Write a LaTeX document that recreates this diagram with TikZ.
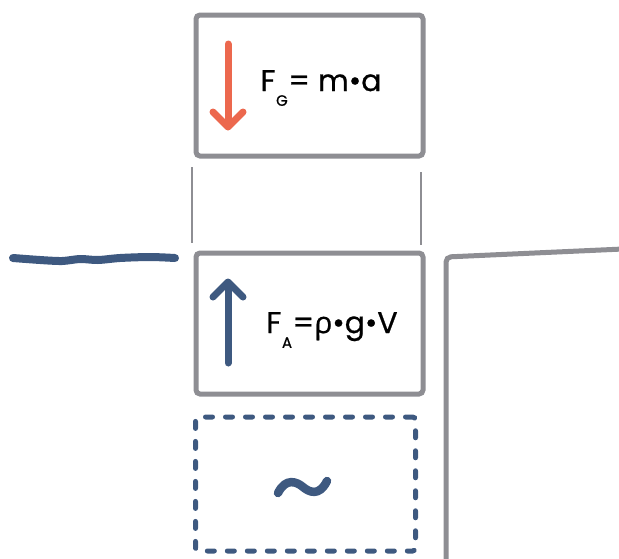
\documentclass[tikz,border=0pt]{standalone}
\usepackage{fontspec}
\setmainfont{Poppins}
\newfontfamily\formulafont{Poppins}[BoldFont=Poppins, BoldFeatures={FakeBold=0.7}]
\newfontfamily\greekfont{Open Sans}[BoldFont=Open Sans, BoldFeatures={FakeBold=0.7}]
\usetikzlibrary{positioning}
\definecolor{framegrey}{RGB}{142,142,147}
\definecolor{gravred}{RGB}{236,104,78}
\definecolor{waterblue}{RGB}{62,89,128}
\tikzset{
frame/.style={draw=framegrey, line width=5pt, rounded corners=4pt, minimum width=227pt, minimum height=141pt, inner sep=0pt, outer sep=0pt},
volume/.style={draw=waterblue, line width=5pt, line cap=round, dash pattern=on 7pt off 13pt, rounded corners=3pt, minimum width=220pt, minimum height=134pt, inner sep=0pt, outer sep=0pt},
force/.style={line width=7pt, line cap=round, line join=round},
guide/.style={draw=framegrey, line width=1.6pt},
wall/.style={draw=framegrey, line width=5pt, rounded corners=5pt},
formula/.style={font=\formulafont\bfseries\fontsize{30}{34}\selectfont, inner sep=0pt}
}
\newcommand{\lowidx}[1]{\kern0.5pt\raisebox{-0.9ex}{\fontsize{15}{15}\selectfont #1}\kern0.5pt}

\begin{document}
\begin{tikzpicture}[x=1pt, y=-1pt]
    \useasboundingbox (0,0) rectangle (619,558);
    % the two blocks and the displaced volume
    \node[frame] (top) at (309.5,85.5) {};
    \node[frame] (mid) [below=97pt of top] {};
    \node[volume] (vol) [below=23pt of mid, xshift=-4pt] {};
    \node[formula] (fg) at (321,88) {F\lowidx{G}= m•a};
    \node[formula] (fa) at (332,330) {F\lowidx{A}={\greekfont ρ}•g•V};
    % forces
    \draw[force, gravred] (228,44) -- (228,126);
    \draw[force, gravred] (213,112) -- (228,127) -- (243,112);
    \draw[force, waterblue] (228,363) -- (228,284);
    \draw[force, waterblue] (213,297) -- (228,282) -- (243,297);
    % tilde
    \draw[line width=8.5pt, line cap=round, waterblue] (278,493) .. controls (286,477) and (297,482) .. (303,487) .. controls (309,492) and (319,497) .. (327,481);
    % guides between the blocks
    \draw[guide] (192,167) -- (192,243);
    \draw[guide] (421,172) -- (421,245);
    % water surface and vessel
    \draw[line width=8pt, line cap=round, waterblue] plot[smooth] coordinates {(13,258) (40,260) (62,261) (80,259) (98,260) (120,258) (150,257) (175,258)};
    \draw[wall] (446,562) -- (446,257) -- (623,249);
\end{tikzpicture}
\end{document}
